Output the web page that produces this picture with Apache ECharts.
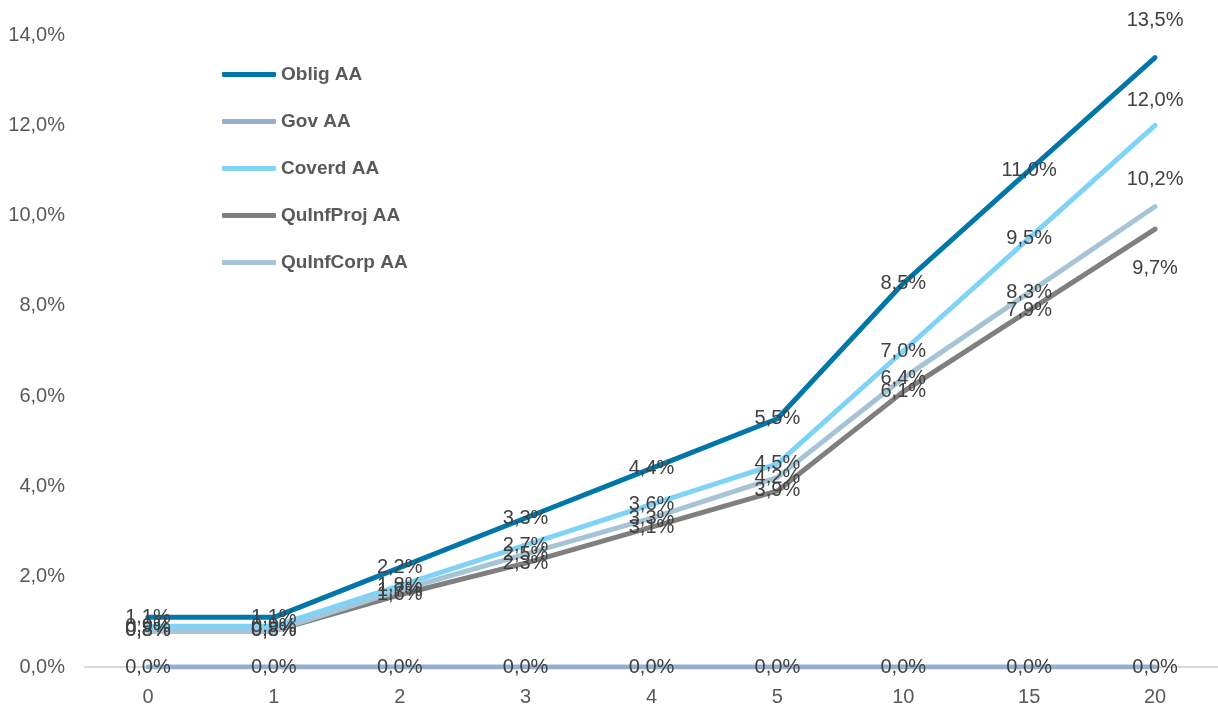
<!DOCTYPE html>
<html>
<head>
<meta charset="utf-8">
<script src="https://cdn.jsdelivr.net/npm/echarts@6/dist/echarts.min.js"></script>
<style>
  html, body { margin: 0; padding: 0; background: #fff; }
  #chart { width: 1218px; height: 709px; }
</style>
</head>
<body>
<div id="chart"></div>
<script>
// Maturity buckets (years)
const categories = ['0', '1', '2', '3', '4', '5', '10', '15', '20'];

// Spread values in percent
const obligAA     = [1.1, 1.1, 2.2, 3.3, 4.4, 5.5, 8.5, 11.0, 13.5];
const govAA       = [0.0, 0.0, 0.0, 0.0, 0.0, 0.0, 0.0, 0.0, 0.0];
const coverdAA    = [0.9, 0.9, 1.8, 2.7, 3.6, 4.5, 7.0, 9.5, 12.0];
const quInfProjAA = [0.8, 0.8, 1.6, 2.3, 3.1, 3.9, 6.1, 7.9, 9.7];
const quInfCorpAA = [0.8, 0.8, 1.7, 2.5, 3.3, 4.2, 6.4, 8.3, 10.2];

const yTicks = [0, 2, 4, 6, 8, 10, 12, 14];

const FONT = "'Liberation Sans Narrow', 'Arial Narrow', 'Liberation Sans', Arial, sans-serif";
const fmt = v => v.toFixed(1).replace('.', ',') + '%';

// Builds a series; the last point label can be shifted to keep the end labels apart
function makeSeries(name, values, color, lastOffset) {
  return {
    name,
    type: 'line',
    data: values.map((v, i) => {
      const item = { value: v };
      if (i === values.length - 1 && lastOffset) {
        item.label = { offset: lastOffset };
      }
      return item;
    }),
    symbol: 'circle',
    symbolSize: 0,
    showSymbol: true,
    lineStyle: { color, width: 5, cap: 'round', join: 'round' },
    itemStyle: { color },
    label: {
      show: true,
      position: 'inside',
      formatter: p => fmt(p.value),
      fontFamily: FONT,
      fontSize: 20,
      color: '#404040'
    },
    emphasis: { disabled: true },
    animation: false
  };
}

const chart = echarts.init(document.getElementById('chart'), null, { renderer: 'canvas' });
chart.setOption({
  backgroundColor: '#ffffff',
  animation: false,
  grid: { left: 85, right: 0, top: 35, bottom: 42 },
  legend: {
    orient: 'vertical',
    left: 222,
    top: 65,
    padding: 0,
    itemWidth: 54,
    itemHeight: 5,
    itemGap: 28,
    icon: 'roundRect',
    textStyle: { fontFamily: "'Liberation Sans', Arial, sans-serif", fontSize: 19, fontWeight: 'bold', color: '#595959' },
    data: ['Oblig AA', 'Gov AA', 'Coverd AA', 'QuInfProj AA', 'QuInfCorp AA']
  },
  xAxis: {
    type: 'category',
    data: categories,
    boundaryGap: true,
    axisLine: { show: true, lineStyle: { color: '#d9d9d9', width: 2 } },
    axisTick: { show: false },
    axisLabel: { fontFamily: FONT, fontSize: 20, color: '#595959', margin: 20 },
    splitLine: { show: false }
  },
  yAxis: {
    type: 'value',
    min: yTicks[0],
    max: yTicks[yTicks.length - 1],
    interval: 2,
    axisLine: { show: false },
    axisTick: { show: false },
    splitLine: { show: false },
    axisLabel: { fontFamily: FONT, fontSize: 20, color: '#595959', margin: 20, formatter: v => fmt(v) }
  },
  series: [
    makeSeries('QuInfProj AA', quInfProjAA, '#7f7f7f', [0, 39]),
    makeSeries('QuInfCorp AA', quInfCorpAA, '#a5c4d6', [0, -27]),
    makeSeries('Coverd AA', coverdAA, '#7fd3f7', [0, -25]),
    makeSeries('Gov AA', govAA, '#95afcc', null),
    makeSeries('Oblig AA', obligAA, '#0077a8', [0, -37])
  ]
});
</script>
</body>
</html>
